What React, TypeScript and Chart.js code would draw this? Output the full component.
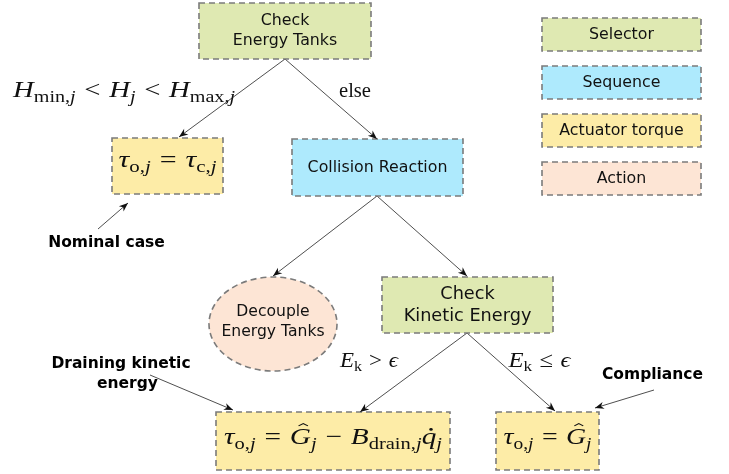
import React, { useEffect, useRef } from "react";
import { Chart, registerables } from "chart.js";
Chart.register(...registerables);

const W = 729;
const H = 474;

// ---- diagram nodes (centre x, centre y, width, height in diagram units) ----
const nodeKinds = ["selector", "torque", "sequence", "action", "selector", "torque", "torque"];
const nodeX = [285, 167.5, 377.5, 273, 467.5, 333, 547.5];
const nodeY = [31, 166, 167.5, 324, 305, 441, 441];
const nodeW = [172, 111, 171, 128, 171, 234, 103];
const nodeH = [56, 56, 57, 94, 56, 58, 58];
const nodeShape = ["rect", "rect", "rect", "ellipse", "rect", "rect", "rect"];
const nodeText = ["Check\nEnergy Tanks", "", "Collision Reaction", "Decouple\nEnergy Tanks", "Check\nKinetic Energy", "", ""];
const nodeFont = [15.8, 0, 15.8, 15.6, 17.7, 0, 0];
const nodeLine = [20, 0, 0, 20, 22, 0, 0];
const nodeTextY = [0, 0, 0, -2, 0, 0, 0];

// ---- legend ----
const legendKinds = ["selector", "sequence", "torque", "action"];
const legendLabels = ["Selector", "Sequence", "Actuator torque", "Action"];
const legendX = [621.5, 621.5, 621.5, 621.5];
const legendY = [34.5, 82.5, 130.5, 178.5];

// ---- edges (tree arrows) and annotation arrows: start -> end ----
const edgeStartX = [285, 285, 377, 377, 467, 467, 98, 150, 654];
const edgeStartY = [59, 59, 196, 196, 333, 333, 229, 375, 390];
const edgeEndX = [179, 377, 273, 467, 360, 555, 128, 233, 595];
const edgeEndY = [137, 139, 276, 276, 412, 411, 203, 410, 408];

// ---- bold annotation text ----
const noteText = ["Nominal case", "Draining kinetic", "energy", "Compliance"];
const noteX = [106.5, 121, 127.5, 652.5];
const noteY = [243, 364, 384, 375];

type Seg = { t: string; it?: boolean; sub?: boolean; rel?: boolean; acc?: "hat" | "dot" };

const mathNom: Seg[] = [
  { t: "τ", it: true }, { t: "o,", sub: true }, { t: "j", sub: true, it: true },
  { t: "=", rel: true },
  { t: "τ", it: true }, { t: "c,", sub: true }, { t: "j", sub: true, it: true },
];
const mathDrain: Seg[] = [
  { t: "τ", it: true }, { t: "o,", sub: true }, { t: "j", sub: true, it: true },
  { t: "=", rel: true },
  { t: "G", it: true, acc: "hat" }, { t: "j", sub: true, it: true },
  { t: "−", rel: true },
  { t: "B", it: true }, { t: "drain,", sub: true }, { t: "j", sub: true, it: true },
  { t: "q", it: true, acc: "dot" }, { t: "j", sub: true, it: true },
];
const mathComp: Seg[] = [
  { t: "τ", it: true }, { t: "o,", sub: true }, { t: "j", sub: true, it: true },
  { t: "=", rel: true },
  { t: "G", it: true, acc: "hat" }, { t: "j", sub: true, it: true },
];
const mathCond: Seg[] = [
  { t: "H", it: true }, { t: "min,", sub: true }, { t: "j", sub: true, it: true },
  { t: "<", rel: true },
  { t: "H", it: true }, { t: "j", sub: true, it: true },
  { t: "<", rel: true },
  { t: "H", it: true }, { t: "max,", sub: true }, { t: "j", sub: true, it: true },
];
const mathElse: Seg[] = [{ t: "else" }];
const mathGt: Seg[] = [{ t: "E", it: true }, { t: "k", sub: true }, { t: ">", rel: true }, { t: "ϵ", it: true }];
const mathLe: Seg[] = [{ t: "E", it: true }, { t: "k", sub: true }, { t: "≤", rel: true }, { t: "ϵ", it: true }];

const mathItems = [mathNom, mathDrain, mathComp, mathCond, mathElse, mathGt, mathLe];
const mathX = [167.5, 333, 547.5, 13, 355, 369, 539.5];
const mathBase = [167, 444, 444, 97, 97, 367, 367];
const mathAlign = ["center", "center", "center", "left", "center", "center", "center"];
const mathSize = [23.5, 23.5, 23.5, 23, 22, 22, 22];
const mathFit = [98, 218, 88, 222, 32, 58, 62];

const fills: Record<string, string> = {
  selector: "#dfe9b2",
  sequence: "#aeeafd",
  torque: "#fdeca7",
  action: "#fde5d5",
};

const MATH_FONT = '"Liberation Serif", "DejaVu Serif", serif';
const SANS = '"DejaVu Sans", Verdana, sans-serif';

function drawMath(ctx: CanvasRenderingContext2D, segs: Seg[], x: number, base: number, size: number, align: string, fit: number) {
  const font = (s: Seg) => `${s.it ? "italic " : ""}${s.sub ? size * 0.7 : size}px ${MATH_FONT}`;
  const gap = size * 0.3;
  const widths = segs.map((s) => {
    ctx.font = font(s);
    return ctx.measureText(s.t).width + (s.rel ? 2 * gap : 0);
  });
  const total = widths.reduce((a, b) => a + b, 0);
  const k = fit > 0 ? fit / total : 1;
  const start = align === "center" ? x - (total * k) / 2 : x;
  ctx.save();
  ctx.translate(start, 0);
  ctx.scale(k, 1);
  let cx = 0;
  ctx.fillStyle = "#111";
  ctx.strokeStyle = "#111";
  ctx.textBaseline = "alphabetic";
  ctx.textAlign = "left";
  segs.forEach((s, i) => {
    ctx.font = font(s);
    const y = s.sub ? base + size * 0.2 : base;
    ctx.fillText(s.t, cx + (s.rel ? gap : 0), y);
    if (s.acc === "hat") {
      const mx = cx + widths[i] / 2 + size * 0.1;
      const ty = base - size * 0.87;
      ctx.beginPath();
      ctx.moveTo(mx - size * 0.16, ty + size * 0.1);
      ctx.lineTo(mx, ty);
      ctx.lineTo(mx + size * 0.16, ty + size * 0.1);
      ctx.lineWidth = 1.1;
      ctx.stroke();
    } else if (s.acc === "dot") {
      const mx = cx + widths[i] / 2 + size * 0.07;
      ctx.beginPath();
      ctx.arc(mx, base - size * 0.62, 1.4, 0, Math.PI * 2);
      ctx.fill();
    }
    cx += widths[i];
  });
  ctx.restore();
}

function drawBox(ctx: CanvasRenderingContext2D, cx: number, cy: number, w: number, h: number, kind: string, shape: string) {
  ctx.save();
  ctx.fillStyle = fills[kind];
  ctx.strokeStyle = "#7b7b7b";
  ctx.lineWidth = 1.6;
  ctx.setLineDash([6, 4]);
  ctx.beginPath();
  if (shape === "ellipse") ctx.ellipse(cx, cy, w / 2, h / 2, 0, 0, Math.PI * 2);
  else ctx.rect(cx - w / 2, cy - h / 2, w, h);
  ctx.fill();
  ctx.stroke();
  ctx.restore();
}

const diagramPlugin = {
  id: "diagram",
  afterDatasetsDraw(chart: any) {
    const ctx: CanvasRenderingContext2D = chart.ctx;
    const xs = chart.scales.x;
    const ys = chart.scales.y;
    const sx = (v: number) => xs.getPixelForValue(v) - xs.getPixelForValue(0);
    const sy = (v: number) => ys.getPixelForValue(v) - ys.getPixelForValue(0);

    // nodes
    const nodeMeta = chart.getDatasetMeta(0);
    nodeMeta.data.forEach((pt: any, i: number) => {
      drawBox(ctx, pt.x, pt.y, sx(nodeW[i]), sy(nodeH[i]), nodeKinds[i], nodeShape[i]);
      if (nodeText[i]) {
        const lines = nodeText[i].split("\n");
        ctx.fillStyle = "#111";
        ctx.font = `${nodeFont[i]}px ${SANS}`;
        ctx.textAlign = "center";
        ctx.textBaseline = "middle";
        lines.forEach((ln, k) => {
          ctx.fillText(ln, pt.x, pt.y + nodeTextY[i] + (k - (lines.length - 1) / 2) * nodeLine[i]);
        });
      }
    });

    // legend
    const legMeta = chart.getDatasetMeta(1);
    legMeta.data.forEach((pt: any, i: number) => {
      drawBox(ctx, pt.x, pt.y, sx(159), sy(33), legendKinds[i], "rect");
      ctx.fillStyle = "#111";
      ctx.font = `15.8px ${SANS}`;
      ctx.textAlign = "center";
      ctx.textBaseline = "middle";
      ctx.fillText(legendLabels[i], pt.x, pt.y);
    });

    // arrowheads
    for (let d = 2; d < 2 + edgeStartX.length; d++) {
      const m = chart.getDatasetMeta(d);
      const a = m.data[0];
      const b = m.data[1];
      const ang = Math.atan2(b.y - a.y, b.x - a.x);
      const L = 9;
      const Wd = 3.6;
      ctx.save();
      ctx.translate(b.x, b.y);
      ctx.rotate(ang);
      ctx.beginPath();
      ctx.moveTo(0, 0);
      ctx.lineTo(-L, -Wd);
      ctx.lineTo(-L * 0.7, 0);
      ctx.lineTo(-L, Wd);
      ctx.closePath();
      ctx.fillStyle = "#111";
      ctx.fill();
      ctx.restore();
    }

    // bold notes
    const noteMeta = chart.getDatasetMeta(2 + edgeStartX.length);
    noteMeta.data.forEach((pt: any, i: number) => {
      ctx.fillStyle = "#000";
      ctx.font = `bold 15.5px ${SANS}`;
      ctx.textAlign = "center";
      ctx.textBaseline = "middle";
      ctx.fillText(noteText[i], pt.x, pt.y);
    });

    // math
    const mathMeta = chart.getDatasetMeta(3 + edgeStartX.length);
    mathMeta.data.forEach((pt: any, i: number) => {
      drawMath(ctx, mathItems[i], pt.x, pt.y, mathSize[i], mathAlign[i], mathFit[i]);
    });
  },
};

export default function App() {
  const ref = useRef<HTMLCanvasElement>(null);
  useEffect(() => {
    if (!ref.current) return;
    const edgeSets = edgeStartX.map((_, i) => ({
      data: [
        { x: edgeStartX[i], y: edgeStartY[i] },
        { x: edgeEndX[i], y: edgeEndY[i] },
      ],
      showLine: true,
      borderColor: "#222",
      borderWidth: 0.8,
      pointRadius: 0,
      fill: false,
    }));
    const chart = new Chart(ref.current, {
      type: "scatter",
      data: {
        datasets: [
          { data: nodeX.map((x, i) => ({ x, y: nodeY[i] })), pointRadius: 0 },
          { data: legendX.map((x, i) => ({ x, y: legendY[i] })), pointRadius: 0 },
          ...edgeSets,
          { data: noteX.map((x, i) => ({ x, y: noteY[i] })), pointRadius: 0 },
          { data: mathX.map((x, i) => ({ x, y: mathBase[i] })), pointRadius: 0 },
        ] as any,
      },
      options: {
        animation: false,
        responsive: false,
        devicePixelRatio: 1,
        layout: { padding: 0 },
        events: [],
        scales: {
          x: { type: "linear", min: 0, max: W, display: false },
          y: { type: "linear", min: 0, max: H, reverse: true, display: false },
        },
        plugins: { legend: { display: false }, tooltip: { enabled: false } },
      },
      plugins: [diagramPlugin],
    });
    return () => chart.destroy();
  }, []);
  return (
    <div style={{ position: "fixed", left: 0, top: 0, width: W, height: H, background: "#fff" }}>
      <canvas ref={ref} width={W} height={H} style={{ width: W, height: H, display: "block" }} />
    </div>
  );
}
